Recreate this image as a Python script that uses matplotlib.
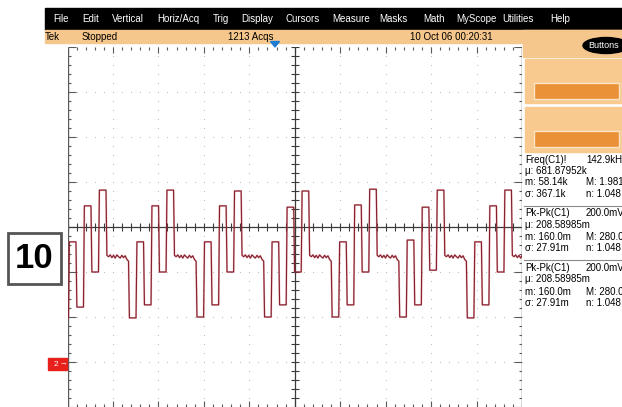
import numpy as np
import matplotlib.pyplot as plt
from matplotlib.patches import Rectangle, Ellipse, Polygon
from matplotlib.collections import LineCollection

plt.rcParams['font.family'] = ['Liberation Sans', 'DejaVu Sans']

W, H = 622, 407

# waveform: symbol levels in divisions, one row per repeating frame
IDLE = -0.66
frames = [
    [IDLE, IDLE, IDLE, -2.02, -0.33, -1.78, 0.47, -1.00, 0.82],
    [IDLE, IDLE, IDLE, -2.02, -0.33, -1.73, 0.47, -1.00, 0.82],
    [IDLE, IDLE, IDLE, -2.00, -0.33, -1.73, 0.47, -1.00, 0.80],
    [IDLE, IDLE, IDLE, -2.00, -0.33, -1.73, 0.44, -1.00, 0.80],
    [IDLE, IDLE, IDLE, -2.00, -0.33, -1.73, 0.49, -1.00, 0.84],
    [IDLE, IDLE, IDLE, -2.00, -0.29, -1.73, 0.44, -0.96, 0.82],
    [IDLE, IDLE, IDLE, -2.02, -0.33, -1.73, 0.47, -1.00, 0.82],
    [IDLE, IDLE, IDLE, -2.02, -0.33, -1.73, 0.47, -1.00, 0.82],
]
frame_start = -0.64     # divisions
symbol_width = 0.1652   # divisions per symbol
idle_ripple = [0.03, 0.0, 0.04, -0.02, 0.03, -0.03, 0.04, 0.0,
               -0.03, 0.03, -0.02, 0.02, -0.06, -0.10]

menu_items = ['File', 'Edit', 'Vertical', 'Horiz/Acq', 'Trig', 'Display',
              'Cursors', 'Measure', 'Masks', 'Math', 'MyScope', 'Utilities', 'Help']
menu_x = [53, 82, 112, 157, 213, 241, 285, 332, 379, 423, 456, 502, 550]

meas_blocks = [
    [('Freq(C1)!', '142.9kHz'), ('\u03bc: 681.87952k', ''),
     ('m: 58.14k', 'M: 1.981'), ('\u03c3: 367.1k', 'n: 1.048')],
    [('Pk-Pk(C1)', '200.0mV'), ('\u03bc: 208.58985m', ''),
     ('m: 160.0m', 'M: 280.0'), ('\u03c3: 27.91m', 'n: 1.048')],
    [('Pk-Pk(C1)', '200.0mV'), ('\u03bc: 208.58985m', ''),
     ('m: 160.0m', 'M: 280.0'), ('\u03c3: 27.91m', 'n: 1.048')],
]

fig = plt.figure(figsize=(W / 100, H / 100), dpi=100)

# graticule: 10 x 8 divisions
gx0, gx1, gy0, gy1 = 67.5, 522, 47, 407
ax = fig.add_axes([gx0 / W, 1 - gy1 / H, (gx1 - gx0) / W, (gy1 - gy0) / H])
ax.set_xlim(0, 10)
ax.set_ylim(-4, 4)
ax.axis('off')
px_x = 10 / (gx1 - gx0)
px_y = 8 / (gy1 - gy0)

# dotted division lines
minor_x = np.arange(0, 10.001, 0.2)
minor_y = np.arange(-4, 4.001, 0.2)
for gx in [1, 2, 3, 4, 6, 7, 8, 9]:
    ax.scatter(np.full_like(minor_y, gx), minor_y, s=0.6, color='#b4b4b4', lw=0)
for gy in [-4, -3, -2, -1, 1, 2, 3]:
    ax.scatter(minor_x, np.full_like(minor_x, gy), s=0.6, color='#b4b4b4', lw=0)

segs_dark, segs_edge = [], []
for x in minor_x:
    major = abs(x - round(x)) < 1e-6
    # centre horizontal line ticks
    segs_dark.append([(x, -4 * px_y), (x, 4 * px_y)])
    # top and bottom rulers
    ln = (6 if major else 3) * px_y
    segs_edge.append([(x, 4), (x, 4 - ln)])
    segs_edge.append([(x, -4), (x, -4 + ln)])
for y in minor_y:
    major = abs(y - round(y)) < 1e-6
    segs_dark.append([(5 - 4 * px_x, y), (5 + 4 * px_x, y)])
    ln = (8 if major else 3) * px_x
    segs_edge.append([(0, y), (ln, y)])
    segs_edge.append([(10, y), (10 - ln, y)])
ax.add_collection(LineCollection(segs_dark, colors='#3a3a3a', linewidths=0.8))
ax.add_collection(LineCollection(segs_edge, colors='#5a5a5a', linewidths=0.8))
ax.axhline(0, color='#3a3a3a', lw=0.9)
ax.axvline(5, color='#3a3a3a', lw=0.9)
ax.plot([0, 0], [-4, 3.95], color='#5a5a5a', lw=1.0)
ax.plot([10, 10], [-4, 3.95], color='#5a5a5a', lw=1.0)

# build the stepped trace
edge = 0.02
t, v = [], []
for k, frame in enumerate(frames):
    t0 = frame_start + k * len(frame) * symbol_width
    n_idle = sum(1 for lv in frame if lv == IDLE)
    idle_t = t0 + edge + np.linspace(0, n_idle * symbol_width - edge, len(idle_ripple))
    t.extend(idle_t)
    v.extend(IDLE + np.array(idle_ripple))
    for i, level in enumerate(frame[n_idle:], start=n_idle):
        ts = t0 + i * symbol_width
        t.extend([ts + edge, ts + symbol_width])
        v.extend([level, level])
ax.plot(t, v, color='#d8404c', lw=1.4, alpha=0.3)
ax.plot(t, v, color='#862230', lw=0.85)

# window chrome drawn in pixel coordinates
ui = fig.add_axes([0, 0, 1, 1])
ui.set_xlim(0, W)
ui.set_ylim(H, 0)
ui.axis('off')
ui.patch.set_visible(False)

ui.add_patch(Rectangle((45, 8), W - 45, 22, color='black'))
for label, x in zip(menu_items, menu_x):
    ui.text(x, 19.5, label, color='white', fontsize=7, va='center')

orange = '#f6c78c'
ui.add_patch(Rectangle((45, 30), W - 45, 12.5, color=orange))
ui.add_patch(Rectangle((523, 30), W - 523, 27, color=orange))
ui.text(45, 36.5, 'Tek', fontsize=7, va='center')
ui.text(82, 36.5, 'Stopped', fontsize=7, va='center')
ui.text(273, 36.5, '1213 Acqs', fontsize=7, va='center', ha='right')
ui.text(410, 36.5, '10 Oct 06 00:20:31', fontsize=7, va='center')

ui.add_patch(Ellipse((606, 45.5), 46, 16, color='black'))
ui.text(588, 45.5, 'Buttons', color='white', fontsize=6.5, va='center')

for top, bottom, btop in [(59, 103, 83), (107, 152, 131)]:
    ui.add_patch(Rectangle((525, top), W - 525, bottom - top, color='#f8ca8f'))
    ui.add_patch(Rectangle((534, btop), 85, 16, facecolor='#ea9036',
                           edgecolor='#fde6c8', lw=1))

# trigger position marker
ui.add_patch(Polygon([(270.5, 41.5), (279.5, 41.5), (275, 47)], color='#1f7ad4'))

# measurement readouts
line_y = [[160, 171, 182, 194], [213, 225, 237, 248], [268, 279, 292, 303]]
for block, ys in zip(meas_blocks, line_y):
    for (left, right), y in zip(block, ys):
        ui.text(525, y, left, fontsize=7, va='center')
        if right:
            ui.text(586, y, right, fontsize=7, va='center')
for y in [206, 260]:
    ui.plot([524, W], [y, y], color='#8a8a8a', lw=0.8)

# figure number box
ui.add_patch(Rectangle((8, 232.5), 53, 51, facecolor='white', edgecolor='#555555', lw=2))
ui.text(34.5, 259, '10', fontsize=25, fontweight='bold', ha='center', va='center')

# channel 2 ground marker
ui.add_patch(Rectangle((48, 358), 19, 12, color='#e8201c'))
ui.text(55.5, 364.5, '2', color='white', fontsize=6, ha='center', va='center')
ui.text(63, 364, '\u2192', color='white', fontsize=5.5, ha='center', va='center')

fig.savefig('out.png', dpi=100)
